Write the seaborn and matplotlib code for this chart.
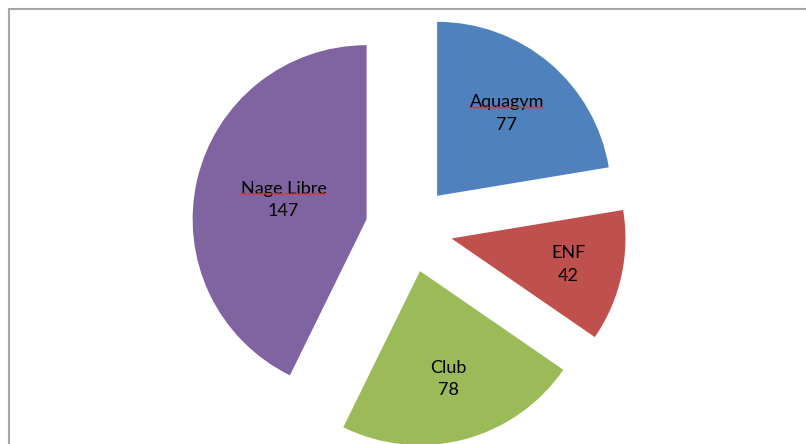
import numpy as np
import matplotlib
matplotlib.use("Agg")
import matplotlib.pyplot as plt
from matplotlib.lines import Line2D
import seaborn as sns

# data
activities = ["Aquagym", "ENF", "Club", "Nage Libre"]
counts = [77, 42, 78, 147]
colors = ["#4F81BD", "#C0504D", "#9BBB59", "#8064A2"]
# labels flagged by the spell checker in the original (red squiggle)
flagged = ["Aquagym", "Nage Libre"]

sns.set_theme(style="white")
plt.rcParams['font.family'] = ['Liberation Sans Narrow', 'Lato', 'DejaVu Sans']

W, H = 806, 444
fig = plt.figure(figsize=(W / 100, H / 100), dpi=100)
ax = fig.add_axes([0, 0, 1, 1])

# pie of radius 1, 174 px per unit, centre at pixel (409, 229)
scale = 174.0
labels = [f"{a}\n{c}" for a, c in zip(activities, counts)]
wedges, texts = ax.pie(counts, labels=labels, colors=colors, startangle=90,
                       counterclock=False, explode=[0.25] * 4, radius=1,
                       labeldistance=0.6, frame=False,
                       wedgeprops=dict(linewidth=0),
                       textprops=dict(fontsize=13, color="black"))
ax.set_xlim(-409 / scale, (W - 409) / scale)
ax.set_ylim(-(H - 229) / scale, 229 / scale)
ax.set_aspect('auto')
ax.axis('off')

# label distances (fraction of radius) per slice, like Excel's placement
label_dist = [0.62, 0.69, 0.64, 0.49]
for w, t, d in zip(wedges, texts, label_dist):
    ang = np.deg2rad((w.theta1 + w.theta2) / 2)
    cx, cy = w.center
    t.set_position((cx + d * w.r * np.cos(ang), cy + d * w.r * np.sin(ang)))
    t.set_ha('center')
    t.set_va('center')
    t.set_linespacing(1.5)

# red spell-check squiggle under the first line of flagged labels
fig.canvas.draw()
renderer = fig.canvas.get_renderer()
for name, t in zip(activities, texts):
    if name not in flagged:
        continue
    bb = t.get_window_extent(renderer)
    tmp = ax.text(0, 0, name, fontsize=13)
    wbb = tmp.get_window_extent(renderer)
    tmp.remove()
    xc = (bb.x0 + bb.x1) / 2
    x0, x1 = xc - wbb.width / 2, xc + wbb.width / 2
    yb = (bb.y0 + bb.y1) / 2 + 6
    xs = np.arange(x0, x1 + 0.1, 1.5)
    ys = yb + np.where(np.arange(len(xs)) % 2 == 0, 0.8, -0.8)
    fig.add_artist(Line2D(xs / W, ys / H, color="#e03030", linewidth=0.7,
                          transform=fig.transFigure))

# chart frame (top and left edges only visible)
fx = 9 / W
fy = 1 - 9 / H
fig.add_artist(Line2D([fx, 1], [fy, fy], color="#a6a6a6", linewidth=1.5,
                      transform=fig.transFigure))
fig.add_artist(Line2D([fx, fx], [0, fy], color="#a6a6a6", linewidth=1.5,
                      transform=fig.transFigure))

fig.savefig("out.png", dpi=100)
